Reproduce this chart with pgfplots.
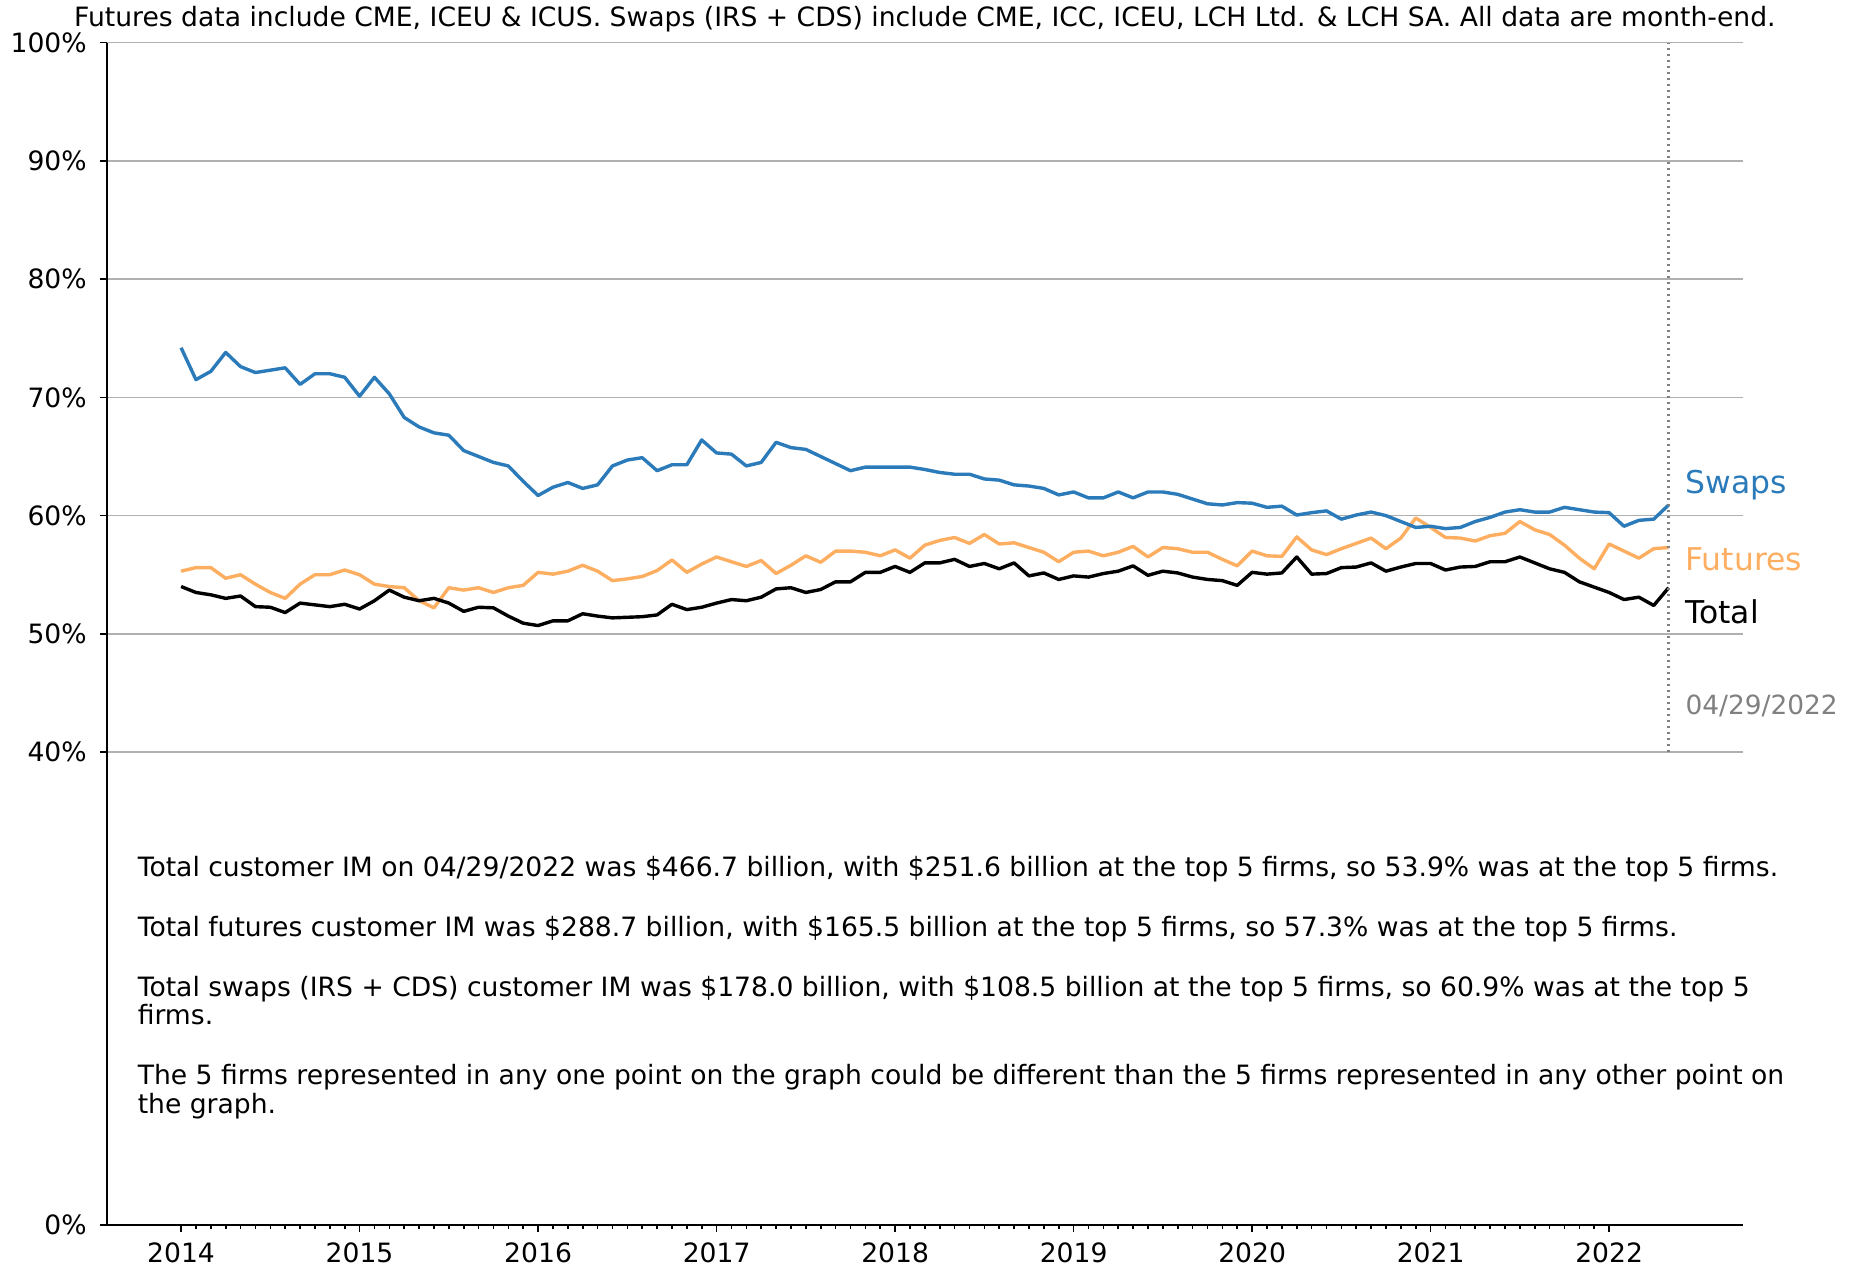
\documentclass[border=0pt]{standalone}
\usepackage{fontspec}
\setmainfont{DejaVu Sans}
\usepackage{pgfplots}
\pgfplotsset{compat=1.18}
\usepackage{pgfplotstable}
\definecolor{swapblue}{HTML}{2B7BBA}
\definecolor{futorange}{HTML}{FDAE61}
\definecolor{gridgray}{HTML}{B0B0B0}
\definecolor{dategray}{HTML}{808080}

\pgfplotstableread{
i s f t
0 74.2 55.3 54.0
1 71.5 55.6 53.5
2 72.2 55.6 53.3
3 73.8 54.7 53.0
4 72.6 55.0 53.2
5 72.1 54.2 52.3
6 72.3 53.5 52.25
7 72.5 53.0 51.8
8 71.1 54.2 52.6
9 72.0 55.0 52.45
10 72.0 55.0 52.3
11 71.7 55.4 52.5
12 70.1 55.0 52.1
13 71.7 54.2 52.8
14 70.3 54.0 53.7
15 68.3 53.9 53.1
16 67.5 52.8 52.8
17 67.0 52.2 53.0
18 66.8 53.9 52.6
19 65.5 53.7 51.9
20 65.0 53.9 52.25
21 64.5 53.5 52.2
22 64.2 53.9 51.5
23 62.9 54.1 50.9
24 61.7 55.2 50.7
25 62.4 55.05 51.1
26 62.8 55.3 51.1
27 62.3 55.8 51.7
28 62.6 55.3 51.5
29 64.2 54.5 51.35
30 64.7 54.65 51.4
31 64.9 54.85 51.45
32 63.8 55.35 51.6
33 64.3 56.25 52.5
34 64.3 55.2 52.05
35 66.4 55.9 52.25
36 65.3 56.5 52.6
37 65.2 56.1 52.9
38 64.2 55.7 52.8
39 64.5 56.2 53.1
40 66.2 55.1 53.8
41 65.75 55.8 53.9
42 65.6 56.6 53.5
43 65.0 56.05 53.75
44 64.4 57.0 54.4
45 63.8 57.0 54.4
46 64.1 56.9 55.2
47 64.1 56.6 55.2
48 64.1 57.1 55.7
49 64.1 56.4 55.2
50 63.9 57.5 56.0
51 63.65 57.9 56.0
52 63.5 58.15 56.3
53 63.5 57.65 55.7
54 63.1 58.4 55.95
55 63.0 57.6 55.5
56 62.6 57.7 56.0
57 62.5 57.3 54.9
58 62.3 56.9 55.15
59 61.75 56.1 54.6
60 62.0 56.9 54.9
61 61.5 57.0 54.8
62 61.5 56.6 55.1
63 62.0 56.9 55.3
64 61.5 57.4 55.75
65 62.0 56.5 54.95
66 62.0 57.3 55.3
67 61.8 57.2 55.15
68 61.4 56.9 54.8
69 61.0 56.9 54.6
70 60.9 56.3 54.5
71 61.1 55.75 54.1
72 61.05 57.0 55.2
73 60.7 56.6 55.05
74 60.8 56.55 55.15
75 60.05 58.2 56.5
76 60.25 57.1 55.05
77 60.4 56.7 55.1
78 59.7 57.2 55.6
79 60.05 57.65 55.65
80 60.3 58.1 56.0
81 60.0 57.2 55.3
82 59.5 58.1 55.65
83 59.0 59.8 55.95
84 59.1 59.0 55.95
85 58.9 58.15 55.4
86 59.0 58.1 55.65
87 59.5 57.85 55.7
88 59.85 58.3 56.1
89 60.3 58.5 56.1
90 60.5 59.5 56.5
91 60.3 58.8 56.0
92 60.3 58.4 55.5
93 60.7 57.5 55.2
94 60.5 56.4 54.4
95 60.3 55.5 53.95
96 60.25 57.6 53.5
97 59.1 57.0 52.9
98 59.6 56.4 53.1
99 59.7 57.2 52.4
100 60.9 57.3 53.9
}\imdata

\begin{document}
\begin{tikzpicture}
\begin{axis}[
  scale only axis,
  width=818.15pt, height=591.15pt,
  xmin=2013.5833, xmax=2022.75,
  ymin=0, ymax=100,
  axis x line*=bottom, axis y line*=left,
  axis line style={-, line width=0.8pt, black},
  ytick={0,40,50,60,70,80,90,100},
  yticklabels={0\%,40\%,50\%,60\%,70\%,80\%,90\%,100\%},
  xtick={2014,2015,2016,2017,2018,2019,2020,2021,2022},
  xticklabels={2014,2015,2016,2017,2018,2019,2020,2021,2022},
  minor x tick num=11,
  ymajorgrids,
  grid style={gridgray, line width=0.8pt},
  tick align=outside,
  major tick length=3.5pt,
  minor tick length=2.2pt,
  every tick/.style={black, line width=0.8pt},
  minor tick style={black, line width=0.8pt},
  ticklabel style={font=\fontsize{13.3}{16}\selectfont},
  xticklabel style={inner sep=0pt, outer sep=0pt, text depth=0pt, anchor=north, yshift=-5.6pt},
  yticklabel style={xshift=-3pt},
  clip=false,
]
\coordinate (O) at (rel axis cs:0,0);
\addplot[futorange, line width=1.7pt, line join=round, no marks] table[x expr=2014+\thisrow{i}/12, y=f] {\imdata};
\addplot[black, line width=1.7pt, line join=round, no marks] table[x expr=2014+\thisrow{i}/12, y=t] {\imdata};
\addplot[swapblue, line width=1.7pt, line join=round, no marks] table[x expr=2014+\thisrow{i}/12, y=s] {\imdata};
\addplot[dategray, line width=1.2pt, dash pattern=on 1.2pt off 1.8pt, no marks] coordinates {(2022.3333,40) (2022.3333,100)};

\node[anchor=base west, inner sep=0pt, text=swapblue, font=\fontsize{15.7}{19}\selectfont] at (axis cs:2022.426,61.87) {Swaps};
\node[anchor=base west, inner sep=0pt, text=futorange, font=\fontsize{15.7}{19}\selectfont] at (axis cs:2022.426,55.37) {Futures};
\node[anchor=base west, inner sep=0pt, text=black, font=\fontsize{15.7}{19}\selectfont] at (axis cs:2022.426,50.91) {Total};
\node[anchor=base west, inner sep=0pt, text=dategray, font=\fontsize{13.2}{16}\selectfont] at (axis cs:2022.426,43.19) {04/29/2022};

\node[anchor=base, inner sep=0pt, font=\fontsize{13.3}{16}\selectfont] at ([yshift=8.3pt]rel axis cs:0.5,1) {Futures data include CME, ICEU \& ICUS. Swaps (IRS + CDS) include CME, ICC, ICEU, LCH Ltd. \& LCH SA. All data are month-end.};

\begin{scope}[every node/.style={anchor=base west, inner sep=0pt, font=\fontsize{13.3}{16}\selectfont}]
\node at (axis cs:2013.755,29.48) {Total customer IM on 04/29/2022 was \$466.7 billion, with \$251.6 billion at the top 5 firms, so 53.9\% was at the top 5 firms.};
\node at (axis cs:2013.755,24.40) {Total futures customer IM was \$288.7 billion, with \$165.5 billion at the top 5 firms, so 57.3\% was at the top 5 firms.};
\node at (axis cs:2013.755,19.36) {Total swaps (IRS + CDS) customer IM was \$178.0 billion, with \$108.5 billion at the top 5 firms, so 60.9\% was at the top 5};
\node at (axis cs:2013.755,16.93) {firms.};
\node at (axis cs:2013.755,11.85) {The 5 firms represented in any one point on the graph could be different than the 5 firms represented in any other point on};
\node at (axis cs:2013.755,9.42) {the graph.};
\end{scope}
\end{axis}
\path ([shift={(-53.35pt,-21.5pt)}]O) rectangle ([shift={(875.65pt,612.5pt)}]O);
\end{tikzpicture}
\end{document}
